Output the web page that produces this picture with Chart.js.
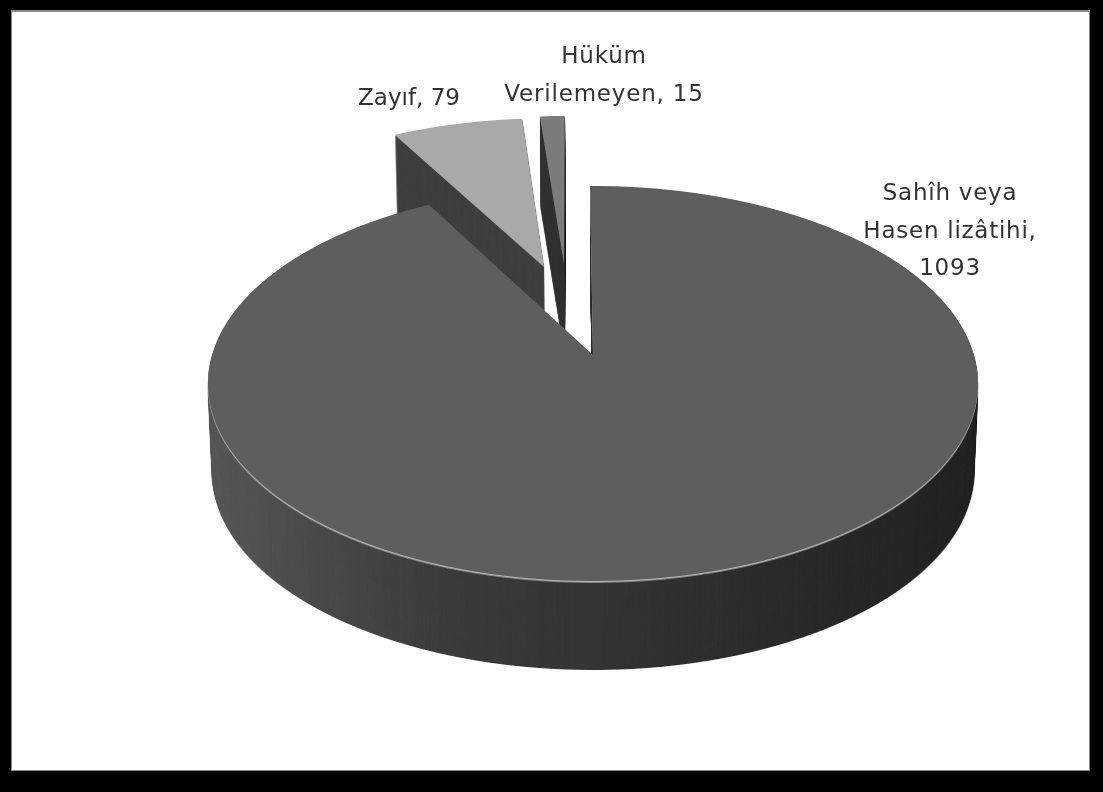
<!DOCTYPE html>
<html><head><meta charset="utf-8">
<style>html,body{margin:0;padding:0;background:#000;overflow:hidden}canvas{display:block;filter:blur(0.55px)}</style>
<script src="https://cdn.jsdelivr.net/npm/chart.js@4"></script>
</head><body>
<canvas id="c" width="1103" height="792"></canvas>
<script>
const categories = ['Sahîh veya Hasen lizâtihi', 'Zayıf', 'Hüküm Verilemeyen'];
const counts = [1093, 79, 15];
const labelLines = [['Sahîh veya', 'Hasen lizâtihi,', '1093'], ['Zayıf, 79'], ['Hüküm', 'Verilemeyen, 15']];

// styling
const faceColors = ['#5e5e5e', '#a9a9a9', '#7b7b7b'];
const sliceExplode = [106, 89, 92];
const labelSpots = [[950, 200, 37.5, 0.75], [409, 105, 0, 0], [604, 63, 38, 0.8]];
const FONT = '23px "DejaVu Sans"';

// 3D projection of the flat pie
const R = 385, APEX_X = 593, APEX_Y = 355, K = 0.1443, T = 193.4, S = 381, DEPTH = 89, SHRINK = 0.0104;
const W = 1103, H = 792;

function outward(arc, d) {
  const mid = (arc.startAngle + arc.endAngle) / 2;
  return [Math.cos(mid) * d, Math.sin(mid) * d];
}
function drawProjected(ctx, arc, d, ax, ay, yMin, yMax) {
  const [ox, oy] = outward(arc, d);
  for (let y = yMin; y < yMax; y++) {
    const Y = y + 0.5 - APEX_Y;
    const v = Y / (T + K * Y);
    const w = 1 - K * v;
    const sx = S / w / R, sy = T / (w * w) / R;
    ctx.save();
    ctx.beginPath(); ctx.rect(0, y, W, 1); ctx.clip();
    ctx.setTransform(sx, 0, 0, sy, APEX_X - ax * sx, (y + 0.5) - (ay + v * R) * sy);
    ctx.translate(ox, oy);
    arc.draw(ctx);
    ctx.restore();
  }
}
function silhouette(arc, d, ax, ay, fillFn) {
  const cv = document.createElement('canvas'); cv.width = W; cv.height = H;
  const g = cv.getContext('2d');
  const keep = arc.options.backgroundColor;
  arc.options.backgroundColor = '#000';
  drawProjected(g, arc, d, ax, ay, 90, 600);
  arc.options.backgroundColor = keep;
  g.globalCompositeOperation = 'source-in';
  g.fillStyle = fillFn(g);
  g.fillRect(0, 0, W, H);
  return cv;
}
const wallFill = [
  g => { const l = g.createLinearGradient(209, 0, 978, 0);
    l.addColorStop(0, '#585858'); l.addColorStop(0.12, '#4c4c4c'); l.addColorStop(0.3, '#3c3c3c');
    l.addColorStop(0.55, '#323232'); l.addColorStop(0.8, '#292929'); l.addColorStop(1, '#232323'); return l; },
  () => '#3f3f3f',
  () => '#333333'
];
const pie3d = {
  id: 'pie3d',
  beforeDraw(chart) {
    const c = chart.ctx;
    c.save();
    c.fillStyle = '#000'; c.fillRect(0, 0, W, H);
    c.fillStyle = '#8a8a8a'; c.fillRect(11, 10, 1079, 761);
    c.fillStyle = '#fff'; c.fillRect(12, 12, 1077, 758);
    c.restore();
  },
  beforeDatasetsDraw(chart) {
    const c = chart.ctx, arcs = chart.getDatasetMeta(0).data;
    const [mx, my] = outward(arcs[0], sliceExplode[0]);
    const ax = arcs[0].x + mx, ay = arcs[0].y + my;
    [2, 1, 0].forEach(i => {
      const d = sliceExplode[i];
      const sil = silhouette(arcs[i], d, ax, ay, wallFill[i]);
      for (let k = DEPTH; k >= 1; k--) {
        const s = 1 - SHRINK * k / DEPTH;
        c.drawImage(sil, APEX_X * (1 - s), k, W * s, H);
      }
      if (i === 0) {
        const rim = silhouette(arcs[i], d, ax, ay, () => '#b4b4b4');
        c.drawImage(rim, 0, 1.6);
      }
      drawProjected(c, arcs[i], d, ax, ay, 90, 600);
    });
    return false;
  },
  afterDraw(chart) {
    const c = chart.ctx;
    c.save();
    c.font = FONT; c.fillStyle = '#333'; c.textAlign = 'center'; c.textBaseline = 'alphabetic';
    labelLines.forEach((lines, i) => {
      const [x, y, lh, ls] = labelSpots[i];
      c.letterSpacing = ls + 'px';
      lines.forEach((t, j) => c.fillText(t, x, y + j * lh));
    });
    c.restore();
  }
};
new Chart(document.getElementById('c'), {
  type: 'pie',
  data: { labels: categories, datasets: [{ data: counts, backgroundColor: faceColors, borderWidth: 0 }] },
  options: {
    responsive: false, animation: false, radius: R, rotation: -0.5,
    plugins: { legend: { display: false }, tooltip: { enabled: false } },
    events: []
  },
  plugins: [pie3d]
});
</script>
</body></html>
